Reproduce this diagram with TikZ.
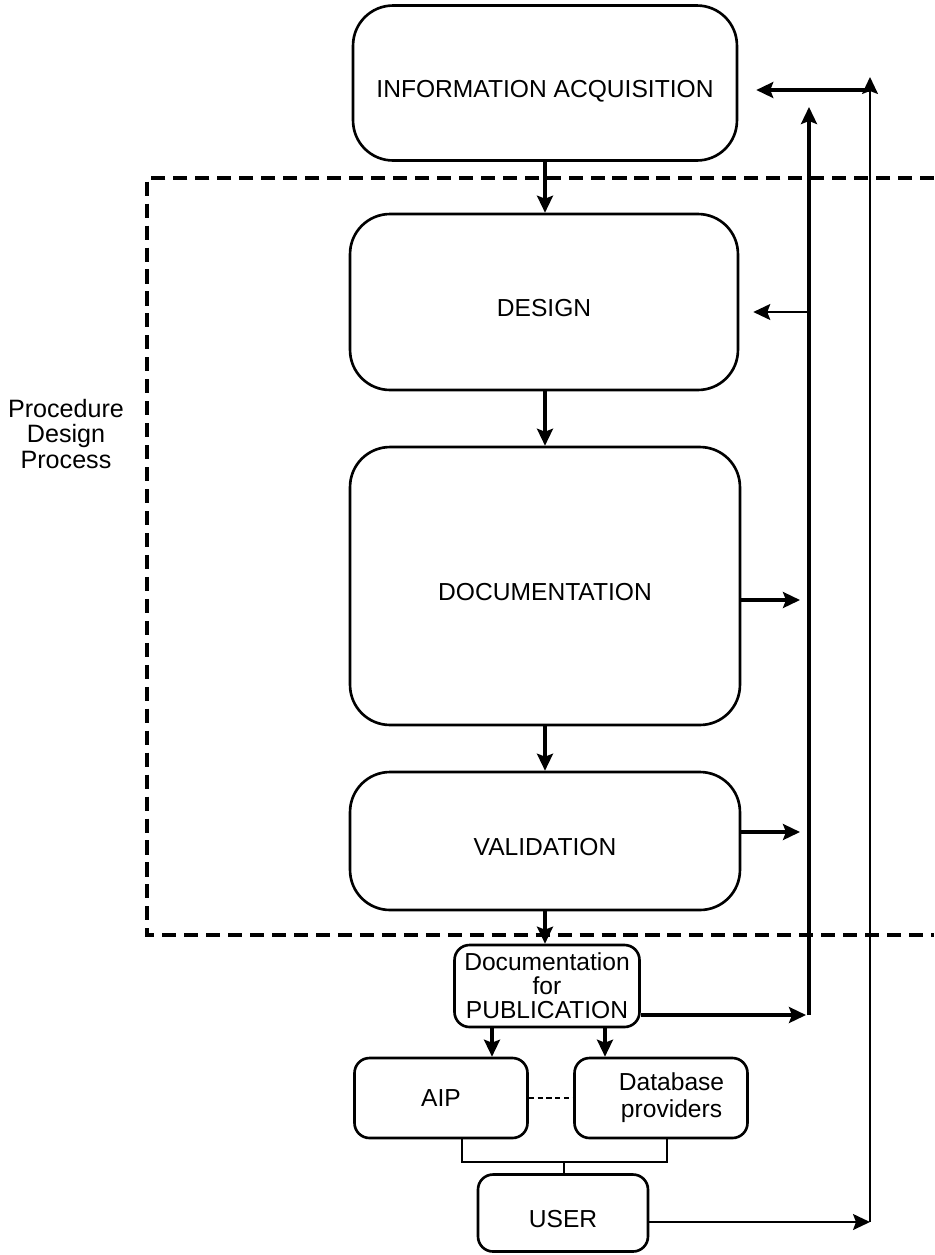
\documentclass[tikz,border=0pt]{standalone}
\usepackage{fontspec}
\setmainfont{Liberation Sans}
\usepackage{tikz}
\usetikzlibrary{calc}
\usetikzlibrary{arrows.meta}
\tikzstyle{stagenode} = [draw, line width=1.5pt, rounded corners=0.8cm, align=center, text height=17pt, text depth=0pt, font=\fontsize{14}{16}\selectfont]
\tikzstyle{smallnode} = [draw, line width=1.5pt, rounded corners=0.3cm, align=center, inner sep=1pt, font=\fontsize{14}{15.5}\selectfont]
\tikzstyle{flow} = [line width=1.8pt, -{Stealth[length=3.4mm, width=3.2mm, inset=0.6mm]}]
\tikzstyle{thinflow} = [line width=1pt, -{Stealth[length=3.4mm, width=3.2mm, inset=0.6mm]}]
\tikzstyle{dashbox} = [line width=2.1pt, dash pattern=on 8pt off 4.5pt]

\begin{document}
\begin{tikzpicture}[x=0.02cm, y=-0.02cm]
\useasboundingbox (0,0) rectangle (934,1255);
\node[stagenode, minimum width=7.68cm, minimum height=3.1cm] (info) at (545,83) {INFORMATION ACQUISITION};
\node[stagenode, minimum width=7.76cm, minimum height=3.52cm] (design) at (544,302) {DESIGN};
\node[stagenode, minimum width=7.8cm, minimum height=5.56cm] (doc) at (545,586) {DOCUMENTATION};
\node[stagenode, minimum width=7.8cm, minimum height=2.76cm] (valid) at (545,841) {VALIDATION};
\node[smallnode, minimum width=3.7cm, minimum height=1.64cm, font=\fontsize{14}{13.6}\selectfont] (pub) at (547,986) {Documentation\\for\\PUBLICATION};
\node[smallnode, minimum width=3.46cm, minimum height=1.6cm] (aip) at (441,1098) {AIP};
\node[smallnode, minimum width=3.46cm, minimum height=1.6cm] (dbase) at (661,1098) {\hspace*{12pt}Database\\\hspace*{12pt}providers};
\node[smallnode, minimum width=3.4cm, minimum height=1.54cm, text height=16pt, text depth=0pt] (user) at (563,1213) {USER};
\node[align=center, font=\fontsize{14.3}{14.7}\selectfont] (proc) at (66,434) {Procedure\\Design\\Process};

% procedure design process frame
\draw[dashbox] (934,178) -- (147,178) -- (147,935) -- (934,935);

% main chain
\draw[flow] (info.south) -- (info.south |- design.north);
\draw[flow] (design.south -| info.south) -- (info.south |- doc.north);
\draw[flow] (doc.south) -- (doc.south |- valid.north);
\draw[flow] (valid.south) -- (valid.south |- pub.north);
\draw[flow] (pub.south -| 492,0) -- (aip.north -| 492,0);
\draw[flow] (pub.south -| 605,0) -- (dbase.north -| 605,0);
\draw[line width=1.5pt, dash pattern=on 3pt off 2pt] (aip.east) -- (dbase.west);

% feedback lines
\coordinate (docout) at (800,600);
\coordinate (valout) at (800,832);
\coordinate (pubout) at (806,1015);
\coordinate (fbtop) at (809,107);
\coordinate (fbbot) at (809,1015);
\coordinate (desin) at (809,312);
\draw[flow] (doc.east |- docout) -- (docout);
\draw[flow] (valid.east |- valout) -- (valout);
\draw[flow] (pub.east |- pubout) -- (pubout);
\draw[flow] (fbbot) -- (fbtop);
\draw[thinflow, shorten >=14*0.02cm] (desin) -- (design.east |- desin);

% user loop
\coordinate (join) at (564,1162);
\draw[line width=1pt] (aip.south -| 462,0) -- (462,1162) -- (667,1162) -- (dbase.south -| 667,0);
\draw[line width=1pt] (join) -- (user.north -| join);
\coordinate (usr) at (870,1222);
\coordinate (usrtop) at (870,77);
\coordinate (infin) at (870,90);
\draw[thinflow] (user.east |- usr) -- (usr);
\draw[thinflow] (usr) -- (usrtop);
\draw[flow, shorten >=18*0.02cm] (infin) -- (info.east |- infin);
\end{tikzpicture}
\end{document}
